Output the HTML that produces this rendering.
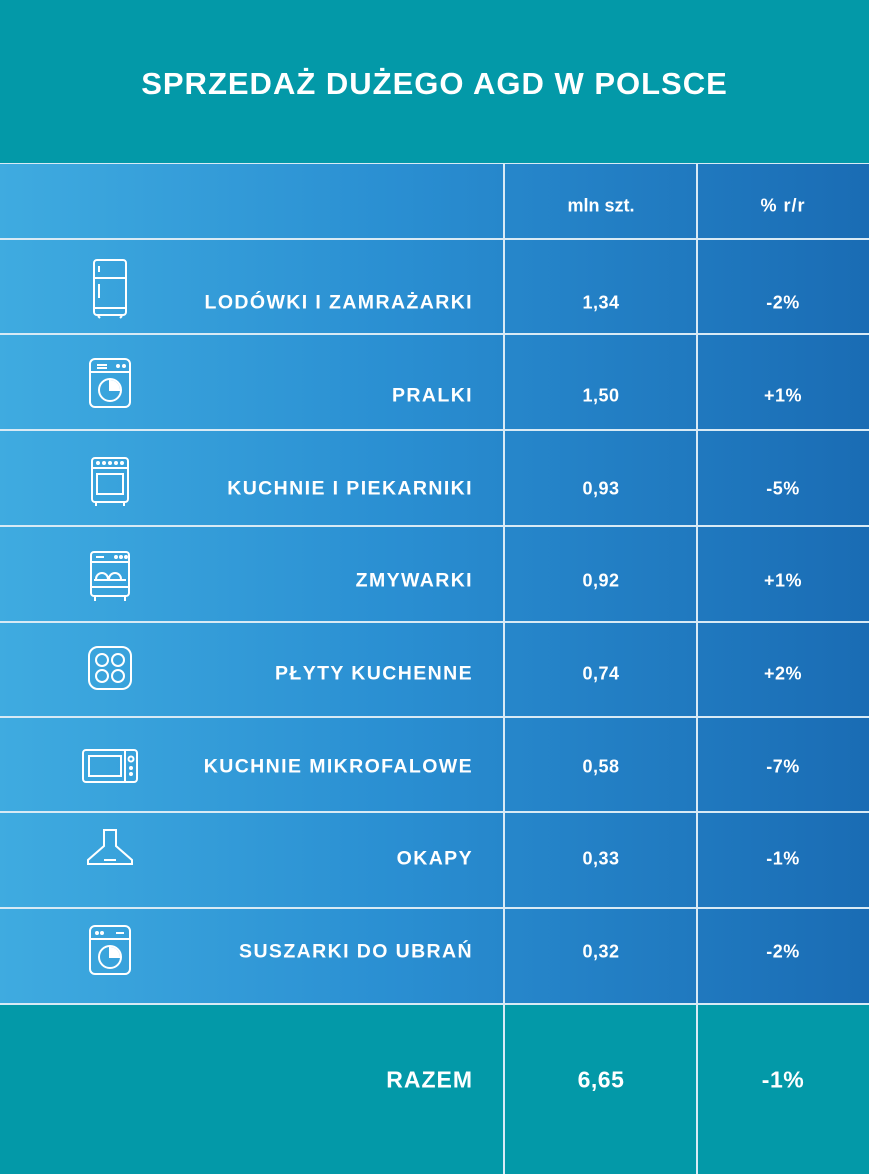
<!DOCTYPE html><html><head><meta charset="utf-8"><style>
body{margin:0;width:869px;height:1174px;overflow:hidden;font-family:"Liberation Sans",sans-serif;color:#fff;position:relative;background:#0399a8}
.hd{position:absolute;left:0;top:0;width:869px;height:163px;background:#0399a8}
.hd div{position:absolute;top:66px;width:869px;text-align:center;font-weight:bold;font-size:31px;letter-spacing:1px}
.tb{position:absolute;left:0;top:163px;width:869px;height:841px;background:linear-gradient(90deg,#3fabe0 0%,#2a8fd2 45%,#1a6cb4 100%)}
.ft{position:absolute;left:0;top:1004px;width:869px;height:170px;background:#0399a8}
.h{position:absolute;height:2px;left:0;width:869px;background:#d8eaf5}
.v{position:absolute;width:2px;background:#d8eaf5;top:163px;height:1011px}
.t{position:absolute;font-weight:bold;font-size:18px;letter-spacing:0.5px;transform:translateY(-50%);white-space:nowrap}
.n{right:396px;font-size:19.5px;letter-spacing:1.4px}.c1{left:503px;width:196px;text-align:center}.c2{left:697px;width:172px;text-align:center}
.hr{font-weight:bold;font-size:18px}
svg{position:absolute}
</style></head><body>
<div class="hd"><div>SPRZEDAŻ DUŻEGO AGD W POLSCE</div></div>
<div class="tb"></div><div class="ft"></div>
<div class="h" style="top:163px;height:1px"></div>
<div class="h" style="top:238px"></div><div class="h" style="top:333px"></div><div class="h" style="top:429px"></div><div class="h" style="top:525px"></div><div class="h" style="top:621px"></div><div class="h" style="top:716px"></div><div class="h" style="top:811px"></div><div class="h" style="top:907px"></div><div class="h" style="top:1003px"></div>
<div class="v" style="left:503px"></div><div class="v" style="left:696px"></div>
<div class="t c1 hr" style="top:206px;letter-spacing:0">mln szt.</div>
<div class="t c2 hr" style="top:206px;letter-spacing:1px">% r/r</div>

<div class="t n" style="top:303px">LODÓWKI I ZAMRAŻARKI</div><div class="t c1" style="top:303px">1,34</div><div class="t c2" style="top:303px">-2%</div>
<div class="t n" style="top:396px">PRALKI</div><div class="t c1" style="top:396px">1,50</div><div class="t c2" style="top:396px">+1%</div>
<div class="t n" style="top:489px">KUCHNIE I PIEKARNIKI</div><div class="t c1" style="top:489px">0,93</div><div class="t c2" style="top:489px">-5%</div>
<div class="t n" style="top:581px">ZMYWARKI</div><div class="t c1" style="top:581px">0,92</div><div class="t c2" style="top:581px">+1%</div>
<div class="t n" style="top:674px">PŁYTY KUCHENNE</div><div class="t c1" style="top:674px">0,74</div><div class="t c2" style="top:674px">+2%</div>
<div class="t n" style="top:767px">KUCHNIE MIKROFALOWE</div><div class="t c1" style="top:767px">0,58</div><div class="t c2" style="top:767px">-7%</div>
<div class="t n" style="top:859px">OKAPY</div><div class="t c1" style="top:859px">0,33</div><div class="t c2" style="top:859px">-1%</div>
<div class="t n" style="top:952px">SUSZARKI DO UBRAŃ</div><div class="t c1" style="top:952px">0,32</div><div class="t c2" style="top:952px">-2%</div>
<div class="t n" style="top:1080px;font-size:23px;letter-spacing:1px">RAZEM</div><div class="t c1" style="top:1080px;font-size:23px">6,65</div><div class="t c2" style="top:1080px;font-size:23px">-1%</div>

<svg style="left:90px;top:258px" width="40" height="64" fill="none" stroke="#fff" stroke-width="2"><rect x="4" y="2" width="32" height="55" rx="3"/><line x1="4" y1="20" x2="36" y2="20"/><line x1="9" y1="8" x2="9" y2="14"/><line x1="9" y1="26" x2="9" y2="40"/><line x1="4" y1="50" x2="36" y2="50"/><line x1="8" y1="58" x2="10" y2="60"/><line x1="32" y1="58" x2="30" y2="60"/></svg>
<svg style="left:88px;top:357px" width="44" height="52" fill="none" stroke="#fff" stroke-width="2"><rect x="2" y="2" width="40" height="48" rx="5"/><line x1="2" y1="15" x2="42" y2="15"/><line x1="9" y1="8" x2="19" y2="8"/><line x1="9" y1="11" x2="19" y2="11"/><circle cx="30" cy="9" r="1"/><circle cx="36" cy="9" r="1"/><circle cx="22" cy="33" r="11"/><path d="M22 24a9 9 0 0 1 9 9h-9z" fill="#fff"/></svg>
<svg style="left:90px;top:455px" width="40" height="52" fill="none" stroke="#fff" stroke-width="2"><rect x="2" y="3" width="36" height="44" rx="3"/><line x1="2" y1="13" x2="38" y2="13"/><rect x="7" y="19" width="26" height="20"/><line x1="6" y1="48" x2="6" y2="51"/><line x1="34" y1="48" x2="34" y2="51"/><circle cx="8" cy="8" r="1"/><circle cx="14" cy="8" r="1"/><circle cx="20" cy="8" r="1"/><circle cx="26" cy="8" r="1"/><circle cx="32" cy="8" r="1"/></svg>
<svg style="left:88px;top:549px" width="44" height="54" fill="none" stroke="#fff" stroke-width="2"><rect x="3" y="3" width="38" height="44" rx="3"/><line x1="3" y1="13" x2="41" y2="13"/><line x1="8" y1="8" x2="16" y2="8"/><circle cx="28" cy="8" r="1"/><circle cx="33" cy="8" r="1"/><circle cx="38" cy="8" r="1"/><path d="M8 30a6 6 0 0 1 12 0M21 30a6 6 0 0 1 12 0"/><line x1="6" y1="31" x2="38" y2="31"/><line x1="3" y1="38" x2="41" y2="38"/><line x1="7" y1="48" x2="7" y2="52"/><line x1="37" y1="48" x2="37" y2="52"/></svg>
<svg style="left:87px;top:645px" width="46" height="46" fill="none" stroke="#fff" stroke-width="2"><rect x="2" y="2" width="42" height="42" rx="9"/><circle cx="15" cy="15" r="6"/><circle cx="31" cy="15" r="6"/><circle cx="15" cy="31" r="6"/><circle cx="31" cy="31" r="6"/></svg>
<svg style="left:81px;top:748px" width="58" height="36" fill="none" stroke="#fff" stroke-width="2"><rect x="2" y="2" width="54" height="32" rx="3"/><rect x="8" y="8" width="32" height="20"/><line x1="44" y1="2" x2="44" y2="34"/><circle cx="50" cy="11" r="2.5"/><circle cx="50" cy="20" r="1"/><circle cx="50" cy="26" r="1"/></svg>
<svg style="left:84px;top:828px" width="52" height="40" fill="none" stroke="#fff" stroke-width="2"><path d="M20 2h12v16l16 14v4H4v-4l16-14z"/><line x1="20" y1="32" x2="32" y2="32"/></svg>
<svg style="left:88px;top:924px" width="44" height="52" fill="none" stroke="#fff" stroke-width="2"><rect x="2" y="2" width="40" height="48" rx="5"/><line x1="2" y1="15" x2="42" y2="15"/><circle cx="9" cy="9" r="1"/><circle cx="14" cy="9" r="1"/><line x1="28" y1="9" x2="36" y2="9"/><circle cx="22" cy="33" r="11"/><path d="M22 24a9 9 0 0 1 9 9h-9z" fill="#fff"/></svg>
</body></html>
